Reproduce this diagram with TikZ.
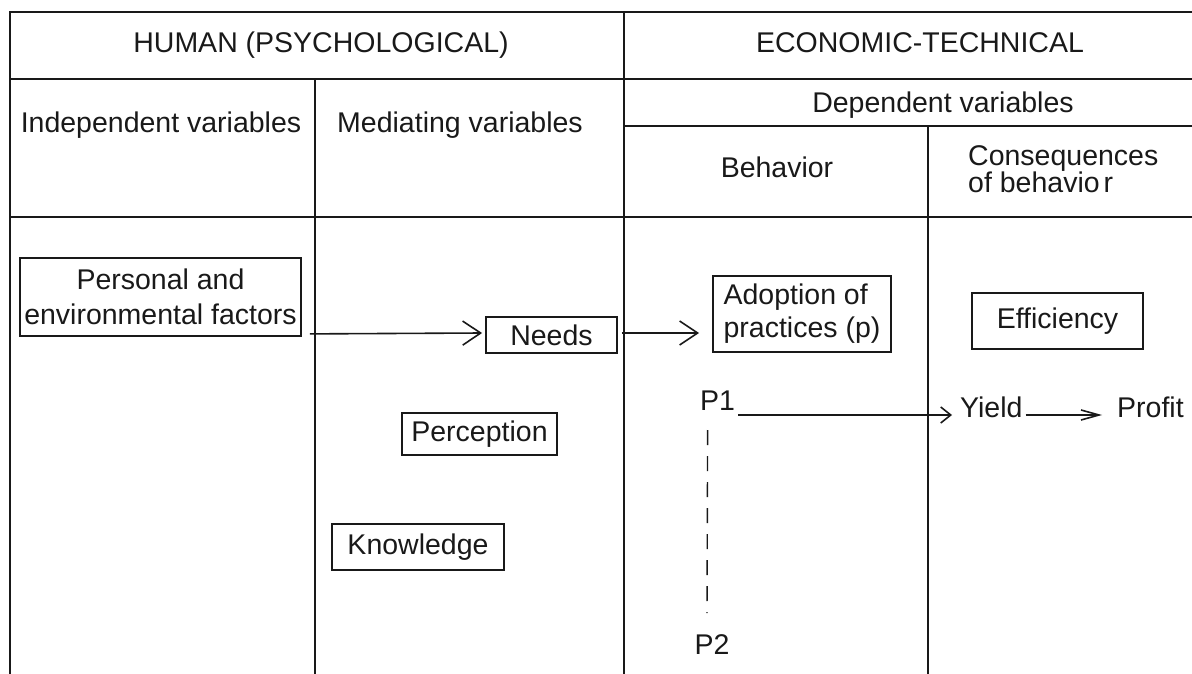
\documentclass[tikz,border=0pt]{standalone}
\usepackage{fontspec}
\setmainfont{Liberation Sans}
\usetikzlibrary{arrows.meta}
\tikzset{
  grid/.style={line width=2pt, draw=black!90},
  txt/.style={inner sep=0pt, font=\fontsize{28.5}{33}\selectfont, text=black!90},
  box/.style={draw=black!90, line width=1.8pt, inner sep=0pt, font=\fontsize{28.5}{33}\selectfont, text=black!90},
  conn/.style={line width=1.6pt, draw=black!90},
  barbA/.style={conn, -{Straight Barb[length=18pt,width=24pt]}},
  barbB/.style={conn, -{Straight Barb[length=10pt,width=16pt]}},
  barbC/.style={conn, -{Straight Barb[length=18pt,width=10pt]}},
  dashline/.style={line width=1.4pt, draw=black!90, dash pattern=on 15pt off 11pt}
}
\begin{document}
\begin{tikzpicture}[x=1pt,y=-1pt]
\useasboundingbox (0,0) rectangle (1192,674);
% table grid
\draw[grid] (10,674) -- (10,12) -- (1192,12);
\draw[grid] (10,79) -- (1192,79);
\draw[grid] (10,217) -- (1192,217);
\draw[grid] (624,126) -- (1192,126);
\draw[grid] (315,79) -- (315,674);
\draw[grid] (624,12) -- (624,674);
\draw[grid] (928,126) -- (928,674);
% headers
\node[txt, anchor=base] (human) at (321,53) {HUMAN (PSYCHOLOGICAL)};
\node[txt, anchor=base] (econ) at (920,53) {ECONOMIC-TECHNICAL};
\node[txt, anchor=base] (indep) at (161,133) {Independent variables};
\node[txt, anchor=base] (med) at (460,133) {Mediating variables};
\node[txt, anchor=base] (dep) at (943,113) {Dependent variables};
\node[txt, anchor=base] (beh) at (777,178) {Behavior};
\node[txt, anchor=base west] (cons) at (968,166) {Consequences};
\node[txt, anchor=base west] (consb) at (968,193) {of behavio\kern4pt r};
% boxes
\node[box, minimum width=281pt, minimum height=78pt, align=center,
      font=\fontsize{28.5}{35}\selectfont] (pef) at (160.5,297) {Personal and\\environmental factors};
\node[box, minimum width=131pt, minimum height=36pt] (needs) at (551.5,335) {Needs};
\node[box, minimum width=178pt, minimum height=76pt, align=left] (adopt) at (802,314) {Adoption of\\practices (p)};
\node[box, minimum width=171pt, minimum height=56pt] (eff) at (1057.5,321) {Efficiency};
\node[box, minimum width=155pt, minimum height=42pt] (perc) at (479.5,434) {Perception};
\node[box, minimum width=172pt, minimum height=46pt] (know) at (418,547) {Knowledge};
% plain labels
\node[txt, anchor=base west] (p1) at (700,410) {P1};
\node[txt, anchor=base] (p2) at (712,654) {P2};
\node[txt, anchor=base west] (yield) at (960,417) {Yield};
\node[txt, anchor=base west] (profit) at (1117,417) {Profit};
% connectors
\draw[barbA] ([shift={(8,-3)}]pef.south east) -- ([shift={(-3,-2)}]needs.west);
\draw[barbA] ([shift={(4,-2)}]needs.east) -- ([shift={(-13,19)}]adopt.west);
\draw[barbB] ([shift={(3,5)}]p1.base east) -- ([shift={(-8,-2)}]yield.base west);
\draw[barbC] ([shift={(3,-2)}]yield.base east) -- ([shift={(-15,-2)}]profit.base west);
\draw[dashline] ([shift={(-10,20)}]p1.base) -- ([shift={(-5,-41)}]p2.base);
\end{tikzpicture}
\end{document}
